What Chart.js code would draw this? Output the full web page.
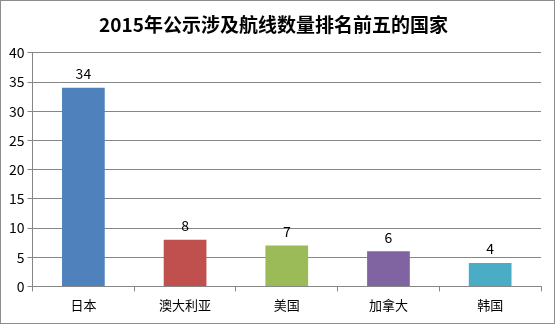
<!DOCTYPE html>
<html>
<head>
<meta charset="utf-8">
<script src="https://cdn.jsdelivr.net/npm/chart.js@4"></script>
<style>
  html, body { margin: 0; padding: 0; background: #fff; }
  #wrap { width: 553px; height: 322px; border: 1px solid #8c8c8c; position: relative; }
</style>
</head>
<body>
<div id="wrap"><canvas id="routesChart"></canvas></div>
<script>
// 国家与航线数量
const countries = ['日本', '澳大利亚', '美国', '加拿大', '韩国'];
const routeCounts = [34, 8, 7, 6, 4];
const barColors = ['#4f81bd', '#c0504d', '#9bbb59', '#8064a2', '#4bacc6'];
const yTicks = [0, 5, 10, 15, 20, 25, 30, 35, 40];

const fontFamily = '"Noto Sans CJK SC", "Noto Sans", sans-serif';

// 柱顶数值标签
const valueLabels = {
    id: 'valueLabels',
    afterDatasetsDraw(chart) {
        const ctx = chart.ctx;
        const meta = chart.getDatasetMeta(0);
        ctx.save();
        ctx.font = '14px ' + fontFamily;
        ctx.fillStyle = '#000';
        ctx.textAlign = 'center';
        ctx.textBaseline = 'bottom';
        meta.data.forEach((bar, i) => {
            ctx.fillText(String(routeCounts[i]), bar.x, bar.y - 7);
        });
        ctx.restore();
    }
};

const config = {
    type: 'bar',
    data: {
        labels: countries,
        datasets: [{
            data: routeCounts,
            backgroundColor: barColors,
            borderWidth: 0,
            categoryPercentage: 1.0,
            barPercentage: 0.42
        }]
    },
    options: {
        responsive: true,
        maintainAspectRatio: false,
        animation: false,
        layout: { padding: { left: 5, right: 13, top: 6, bottom: 4 } },
        plugins: {
            legend: { display: false },
            tooltip: { enabled: false },
            title: {
                display: true,
                text: '2015年公示涉及航线数量排名前五的国家',
                color: '#000',
                font: { family: fontFamily, size: 19, weight: 'bold' },
                padding: { top: 6, bottom: 17 }
            }
        },
        scales: {
            x: {
                offset: true,
                grid: {
                    offset: true,
                    drawOnChartArea: false,
                    drawTicks: true,
                    tickLength: 5,
                    color: '#868686'
                },
                border: { color: '#868686' },
                ticks: {
                    color: '#000',
                    font: { family: fontFamily, size: 13 },
                    padding: 6
                }
            },
            y: {
                min: 0,
                max: 40,
                afterBuildTicks(axis) {
                    axis.ticks = yTicks.map(v => ({ value: v }));
                },
                grid: {
                    color: '#868686',
                    tickLength: 5
                },
                border: { color: '#868686' },
                ticks: {
                    color: '#000',
                    font: { family: fontFamily, size: 14 },
                    padding: 3
                }
            }
        }
    },
    plugins: [valueLabels]
};

new Chart(document.getElementById('routesChart'), config);
</script>
</body>
</html>
